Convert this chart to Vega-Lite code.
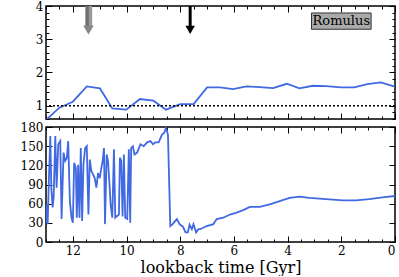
{
  "$schema": "https://vega.github.io/schema/vega-lite/v6.json",
  "padding": {"left": 19, "top": -1, "right": 5, "bottom": 0},
  "spacing": 8,
  "bounds": "flush",
  "config": {
    "font": "DejaVu Serif",
    "view": {"stroke": "black", "strokeWidth": 1.5},
    "axis": {"domain": false, "grid": false, "labelColor": "black", "labelFontSize": 12, "tickColor": "black", "tickWidth": 1, "titleFontWeight": "normal", "titleColor": "black", "labelPadding": 0}
  },
  "datasets": {
    "ratio": [
      {"t": 13.0, "v": 0.57}, {"t": 12.5, "v": 0.94}, {"t": 12.0, "v": 1.12}, {"t": 11.48, "v": 1.58},
      {"t": 10.99, "v": 1.52}, {"t": 10.53, "v": 0.92}, {"t": 10.01, "v": 0.88}, {"t": 9.5, "v": 1.2},
      {"t": 9.0, "v": 1.15}, {"t": 8.53, "v": 0.88}, {"t": 8.0, "v": 1.05}, {"t": 7.5, "v": 1.05},
      {"t": 7.0, "v": 1.55}, {"t": 6.52, "v": 1.55}, {"t": 6.03, "v": 1.5}, {"t": 5.53, "v": 1.58},
      {"t": 5.04, "v": 1.56}, {"t": 4.54, "v": 1.53}, {"t": 4.03, "v": 1.66}, {"t": 3.56, "v": 1.52},
      {"t": 3.06, "v": 1.6}, {"t": 2.57, "v": 1.59}, {"t": 2.01, "v": 1.55}, {"t": 1.52, "v": 1.55},
      {"t": 1.03, "v": 1.65}, {"t": 0.53, "v": 1.7}, {"t": 0.0, "v": 1.57}
    ],
    "angle": [
      {"t": 12.99, "v": 30}, {"t": 12.975, "v": 59}, {"t": 12.938, "v": 28}, {"t": 12.901, "v": 85}, {"t": 12.84, "v": 166},
      {"t": 12.802, "v": 85}, {"t": 12.753, "v": 54}, {"t": 12.716, "v": 69}, {"t": 12.654, "v": 166},
      {"t": 12.605, "v": 85}, {"t": 12.543, "v": 153}, {"t": 12.469, "v": 158}, {"t": 12.42, "v": 36},
      {"t": 12.346, "v": 140}, {"t": 12.284, "v": 127}, {"t": 12.222, "v": 132}, {"t": 12.173, "v": 158},
      {"t": 12.111, "v": 64}, {"t": 12.049, "v": 38}, {"t": 12.0, "v": 30}, {"t": 11.951, "v": 124},
      {"t": 11.889, "v": 116}, {"t": 11.852, "v": 38}, {"t": 11.802, "v": 121}, {"t": 11.753, "v": 38},
      {"t": 11.704, "v": 147}, {"t": 11.654, "v": 33}, {"t": 11.605, "v": 121}, {"t": 11.543, "v": 147},
      {"t": 11.481, "v": 150}, {"t": 11.42, "v": 43}, {"t": 11.37, "v": 129}, {"t": 11.309, "v": 111},
      {"t": 11.247, "v": 106}, {"t": 11.185, "v": 100}, {"t": 11.123, "v": 85}, {"t": 11.062, "v": 108},
      {"t": 11.0, "v": 100}, {"t": 10.938, "v": 116}, {"t": 10.889, "v": 127}, {"t": 10.84, "v": 147},
      {"t": 10.802, "v": 28}, {"t": 10.741, "v": 137}, {"t": 10.691, "v": 127}, {"t": 10.642, "v": 95},
      {"t": 10.593, "v": 59}, {"t": 10.531, "v": 38}, {"t": 10.469, "v": 145}, {"t": 10.42, "v": 38},
      {"t": 10.37, "v": 40}, {"t": 10.284, "v": 43}, {"t": 10.247, "v": 132}, {"t": 10.198, "v": 127},
      {"t": 10.148, "v": 40}, {"t": 10.099, "v": 137}, {"t": 10.049, "v": 38}, {"t": 9.975, "v": 36},
      {"t": 9.914, "v": 145}, {"t": 9.864, "v": 30}, {"t": 9.827, "v": 147}, {"t": 9.765, "v": 150},
      {"t": 9.704, "v": 137}, {"t": 9.605, "v": 140}, {"t": 9.481, "v": 153}, {"t": 9.358, "v": 150},
      {"t": 9.235, "v": 156}, {"t": 9.111, "v": 158}, {"t": 9.012, "v": 153}, {"t": 8.926, "v": 156},
      {"t": 8.802, "v": 156}, {"t": 8.679, "v": 168}, {"t": 8.593, "v": 171}, {"t": 8.531, "v": 179},
      {"t": 8.457, "v": 168}, {"t": 8.407, "v": 85}, {"t": 8.37, "v": 25}, {"t": 8.284, "v": 28},
      {"t": 8.185, "v": 33}, {"t": 8.123, "v": 36}, {"t": 8.025, "v": 28}, {"t": 7.901, "v": 24},
      {"t": 7.802, "v": 15}, {"t": 7.716, "v": 15}, {"t": 7.654, "v": 27}, {"t": 7.568, "v": 20},
      {"t": 7.506, "v": 28}, {"t": 7.407, "v": 15}, {"t": 7.321, "v": 20}, {"t": 7.259, "v": 20},
      {"t": 7.012, "v": 25}, {"t": 6.765, "v": 28}, {"t": 6.642, "v": 36}, {"t": 6.395, "v": 38},
      {"t": 6.148, "v": 43}, {"t": 5.901, "v": 46}, {"t": 5.654, "v": 50}, {"t": 5.407, "v": 55},
      {"t": 5.037, "v": 55}, {"t": 4.667, "v": 59}, {"t": 4.296, "v": 64}, {"t": 3.926, "v": 69},
      {"t": 3.556, "v": 71}, {"t": 3.185, "v": 69}, {"t": 2.568, "v": 67}, {"t": 1.951, "v": 65},
      {"t": 1.457, "v": 65}, {"t": 0.963, "v": 67}, {"t": 0.469, "v": 70}, {"t": 0.0, "v": 72}
    ]
  },
  "vconcat": [
    {
      "width": 349,
      "height": 113,
      "resolve": {"axis": {"x": "independent", "y": "independent"}},
      "layer": [
        {
          "data": {"name": "ratio"},
          "mark": {"type": "line", "color": "#4169e1", "strokeWidth": 1.8, "clip": true},
          "encoding": {
            "x": {"field": "t", "type": "quantitative",
              "scale": {"domain": [0, 13], "reverse": true, "nice": false},
              "axis": {"orient": "bottom", "title": null, "labels": false,
                "values": [0,0.5,1,1.5,2,2.5,3,3.5,4,4.5,5,5.5,6,6.5,7,7.5,8,8.5,9,9.5,10,10.5,11,11.5,12,12.5,13],
                "tickSize": {"condition": {"test": "datum.value % 2 !== 0", "value": -3}, "value": -6}}},
            "y": {"field": "v", "type": "quantitative",
              "scale": {"domain": [0.6, 4], "nice": false, "zero": false},
              "axis": {"orient": "left", "title": null, "labelPadding": 9,
                "values": [0.6,0.8,1,1.2,1.4,1.6,1.8,2,2.2,2.4,2.6,2.8,3,3.2,3.4,3.6,3.8,4],
                "labelExpr": "datum.value % 1 === 0 ? format(datum.value, 'd') : ''",
                "tickSize": {"condition": {"test": "datum.value % 1 !== 0", "value": -3}, "value": -6}}}
          }
        },
        {
          "data": {"values": [{"t": 0, "v": 1}]},
          "mark": {"type": "point", "opacity": 0},
          "encoding": {
            "x": {"field": "t", "type": "quantitative",
              "axis": {"orient": "top", "title": null, "labels": false,
                "values": [0,0.5,1,1.5,2,2.5,3,3.5,4,4.5,5,5.5,6,6.5,7,7.5,8,8.5,9,9.5,10,10.5,11,11.5,12,12.5,13],
                "tickSize": {"condition": {"test": "datum.value % 2 !== 0", "value": -3}, "value": -6}}},
            "y": {"field": "v", "type": "quantitative",
              "axis": {"orient": "right", "title": null, "labels": false,
                "values": [0.6,0.8,1,1.2,1.4,1.6,1.8,2,2.2,2.4,2.6,2.8,3,3.2,3.4,3.6,3.8,4],
                "tickSize": {"condition": {"test": "datum.value % 1 !== 0", "value": -3}, "value": -6}}}
          }
        },
        {
          "data": {"values": [{"v": 1}]},
          "mark": {"type": "rule", "color": "black", "strokeWidth": 1.5, "strokeDash": [2, 2]},
          "encoding": {"y": {"field": "v", "type": "quantitative", "axis": null}}
        },
        {
          "data": {"values": [{"t": 11.41, "v": 4, "v2": 3.35}]},
          "mark": {"type": "rule", "color": "#9a9a9a", "strokeWidth": 7},
          "encoding": {"x": {"field": "t", "type": "quantitative", "axis": null}, "y": {"field": "v", "type": "quantitative", "axis": null}, "y2": {"field": "v2"}}
        },
        {
          "data": {"values": [{"t": 11.46, "v": 4, "v2": 3.35}]},
          "mark": {"type": "rule", "color": "#707070", "strokeWidth": 3},
          "encoding": {"x": {"field": "t", "type": "quantitative", "axis": null}, "y": {"field": "v", "type": "quantitative", "axis": null}, "y2": {"field": "v2"}}
        },
        {
          "data": {"values": [{"t": 11.42, "v": 3.28}]},
          "mark": {"type": "point", "shape": "triangle-down", "filled": true, "color": "#858585", "opacity": 1, "size": 110},
          "encoding": {"x": {"field": "t", "type": "quantitative", "axis": null}, "y": {"field": "v", "type": "quantitative", "axis": null}}
        },
        {
          "data": {"values": [{"t": 7.63, "v": 4, "v2": 3.35}]},
          "mark": {"type": "rule", "color": "black", "strokeWidth": 3},
          "encoding": {"x": {"field": "t", "type": "quantitative", "axis": null}, "y": {"field": "v", "type": "quantitative", "axis": null}, "y2": {"field": "v2"}}
        },
        {
          "data": {"values": [{"t": 7.63, "v": 3.28}]},
          "mark": {"type": "point", "shape": "triangle-down", "filled": true, "color": "black", "opacity": 1, "size": 90},
          "encoding": {"x": {"field": "t", "type": "quantitative", "axis": null}, "y": {"field": "v", "type": "quantitative", "axis": null}}
        },
        {
          "data": {"values": [{"t": 3.11, "t2": 0.89, "v": 3.79, "v2": 3.3}]},
          "mark": {"type": "rect", "fill": "#aaaaaa", "stroke": "#333333", "strokeWidth": 1},
          "encoding": {"x": {"field": "t", "type": "quantitative", "axis": null}, "x2": {"field": "t2"}, "y": {"field": "v", "type": "quantitative", "axis": null}, "y2": {"field": "v2"}}
        },
        {
          "data": {"values": [{"t": 2.0, "v": 3.55, "label": "Romulus"}]},
          "mark": {"type": "text", "fontSize": 13, "color": "black", "align": "center", "baseline": "middle"},
          "encoding": {"x": {"field": "t", "type": "quantitative", "axis": null}, "y": {"field": "v", "type": "quantitative", "axis": null}, "text": {"field": "label"}}
        }
      ]
    },
    {
      "width": 349,
      "height": 115,
      "resolve": {"axis": {"x": "independent", "y": "independent"}},
      "layer": [
        {
          "data": {"name": "angle"},
          "mark": {"type": "line", "color": "#4169e1", "strokeWidth": 1.8, "clip": true},
          "encoding": {
            "x": {"field": "t", "type": "quantitative",
              "scale": {"domain": [0, 13], "reverse": true, "nice": false},
              "axis": {"orient": "bottom", "title": "lookback time [Gyr]", "titleFontSize": 16, "titlePadding": 3, "labelPadding": 9,
                "values": [0,0.5,1,1.5,2,2.5,3,3.5,4,4.5,5,5.5,6,6.5,7,7.5,8,8.5,9,9.5,10,10.5,11,11.5,12,12.5,13],
                "labelExpr": "datum.value % 2 === 0 ? format(datum.value, 'd') : ''",
                "tickSize": {"condition": {"test": "datum.value % 2 !== 0", "value": -3}, "value": -6}}},
            "y": {"field": "v", "type": "quantitative",
              "scale": {"domain": [0, 180], "nice": false},
              "axis": {"orient": "left", "title": null, "labelPadding": 9, "values": [0,30,60,90,120,150,180], "tickSize": -6}}
          }
        },
        {
          "data": {"values": [{"t": 0, "v": 0}]},
          "mark": {"type": "point", "opacity": 0},
          "encoding": {
            "x": {"field": "t", "type": "quantitative",
              "axis": {"orient": "top", "title": null, "labels": false,
                "values": [0,0.5,1,1.5,2,2.5,3,3.5,4,4.5,5,5.5,6,6.5,7,7.5,8,8.5,9,9.5,10,10.5,11,11.5,12,12.5,13],
                "tickSize": {"condition": {"test": "datum.value % 2 !== 0", "value": -3}, "value": -6}}},
            "y": {"field": "v", "type": "quantitative",
              "axis": {"orient": "right", "title": null, "labels": false, "values": [0,30,60,90,120,150,180], "tickSize": -6}}
          }
        }
      ]
    }
  ]
}
